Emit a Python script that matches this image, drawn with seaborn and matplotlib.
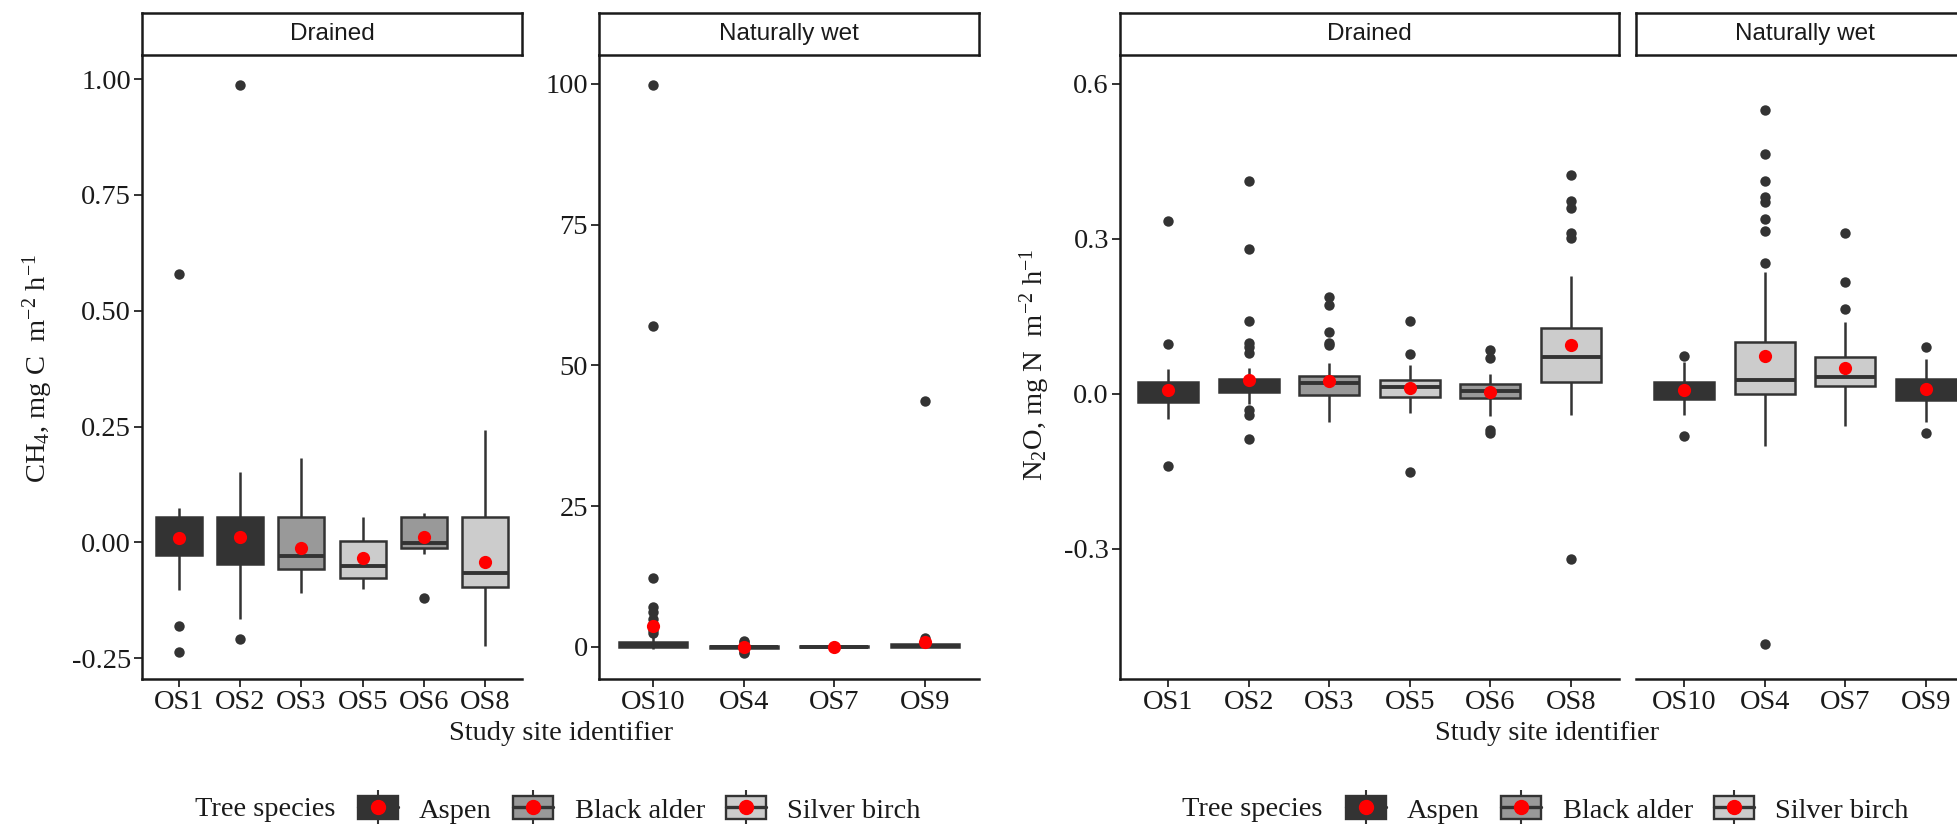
import numpy as np
import pandas as pd
import seaborn as sns
import matplotlib.pyplot as plt
from matplotlib.patches import Patch
from matplotlib.lines import Line2D

# Tree species and their box fill
species = ['Aspen', 'Black alder', 'Silver birch']
species_colors = ['#333333', '#999999', '#cccccc']

# Sites in each facet and the species growing there
drained_sites = ['OS1', 'OS2', 'OS3', 'OS5', 'OS6', 'OS8']
drained_species = ['Aspen', 'Aspen', 'Black alder', 'Silver birch', 'Black alder', 'Silver birch']
wet_sites = ['OS10', 'OS4', 'OS7', 'OS9']
wet_species = ['Aspen', 'Silver birch', 'Silver birch', 'Aspen']

# CH4 flux, mg C m-2 h-1 : [whisker low, Q1, median, Q3, whisker high]
ch4_drained_box = [
    [-0.103, -0.028, 0.005, 0.055, 0.075],
    [-0.166, -0.046, 0.005, 0.055, 0.151],
    [-0.110, -0.057, -0.029, 0.055, 0.181],
    [-0.100, -0.077, -0.050, 0.002, 0.054],
    [-0.026, -0.013, -0.002, 0.055, 0.063],
    [-0.224, -0.097, -0.067, 0.055, 0.243],
]
ch4_drained_mean = [0.009, 0.011, -0.013, -0.033, 0.011, -0.043]
ch4_drained_out = [[0.58, -0.181, -0.237], [0.987, -0.209], [], [], [-0.12], []]

ch4_wet_box = [
    [-0.3, 0.0, 0.3, 0.9, 2.0],
    [-0.6, -0.2, 0.0, 0.15, 0.5],
    [-0.3, -0.1, 0.0, 0.1, 0.3],
    [-0.2, 0.0, 0.2, 0.5, 1.0],
]
ch4_wet_mean = [3.7, -0.05, 0.0, 0.9]
ch4_wet_out = [[99.7, 57.0, 12.2, 7.0, 6.2, 5.0, 4.0, 3.0, 2.5], [1.0, 0.8, -0.9, -1.1], [], [43.7, 1.6]]

# N2O flux, mg N m-2 h-1
n2o_drained_box = [
    [-0.049, -0.016, 0.003, 0.022, 0.048],
    [-0.020, 0.004, 0.015, 0.029, 0.050],
    [-0.055, -0.002, 0.021, 0.035, 0.060],
    [-0.037, -0.006, 0.013, 0.027, 0.055],
    [-0.042, -0.008, 0.006, 0.019, 0.039],
    [-0.040, 0.023, 0.071, 0.128, 0.229],
]
n2o_drained_mean = [0.008, 0.027, 0.025, 0.012, 0.004, 0.095]
n2o_drained_out = [
    [0.335, 0.097, -0.139],
    [0.412, 0.28, 0.142, 0.098, 0.09, 0.079, -0.031, -0.04, -0.087],
    [0.188, 0.172, 0.119, 0.098, 0.094],
    [0.142, 0.077, -0.152],
    [0.085, 0.07, -0.07, -0.076],
    [0.424, 0.374, 0.36, 0.311, 0.302, -0.319],
]

n2o_wet_box = [
    [-0.040, -0.010, 0.005, 0.022, 0.062],
    [-0.100, 0.000, 0.027, 0.100, 0.236],
    [-0.062, 0.015, 0.032, 0.072, 0.139],
    [-0.054, -0.012, 0.008, 0.029, 0.067],
]
n2o_wet_mean = [0.007, 0.074, 0.05, 0.009]
n2o_wet_out = [
    [0.073, -0.081],
    [0.55, 0.464, 0.412, 0.382, 0.372, 0.339, 0.316, 0.253, -0.484],
    [0.311, 0.217, 0.165],
    [0.091, -0.075],
]

ch4_drained_ticks = [-0.25, 0.0, 0.25, 0.5, 0.75, 1.0]
ch4_drained_ticklabels = ['-0.25', '0.00', '0.25', '0.50', '0.75', '1.00']
ch4_wet_ticks = [0, 25, 50, 75, 100]
ch4_wet_ticklabels = ['0', '25', '50', '75', '100']
n2o_ticks = [-0.3, 0.0, 0.3, 0.6]
n2o_ticklabels = ['-0.3', '0.0', '0.3', '0.6']

sns.set_style('ticks')
plt.rcParams['font.family'] = ['Liberation Serif', 'DejaVu Serif']
plt.rcParams['mathtext.default'] = 'regular'

W, H = 1958, 826
fig = plt.figure(figsize=(W / 100, H / 100), dpi=100)
palette = dict(zip(species, species_colors))
FS = 20.5
INK = '#1a1a1a'


def panel(x0, x1, sites, site_species, boxes, means, outliers, ylim, strip_label):
    ax = fig.add_axes([x0 / W, (H - 679) / H, (x1 - x0) / W, 624 / H])
    box_df = pd.DataFrame({
        'site': np.repeat(sites, 5),
        'species': np.repeat(site_species, 5),
        'value': np.concatenate([np.asarray(b, float) for b in boxes]),
    })
    sns.boxplot(data=box_df, x='site', y='value', hue='species', order=sites,
                hue_order=species, palette=palette, whis=(0, 100), showfliers=False,
                showcaps=False, dodge=False, width=0.75, linewidth=1.8,
                linecolor='#333333', medianprops={'linewidth': 2.8}, legend=False, ax=ax)
    counts = [len(o) for o in outliers]
    out_df = pd.DataFrame({
        'site': np.repeat(sites, counts),
        'value': np.concatenate([np.asarray(o, float) for o in outliers]),
    })
    sns.stripplot(data=out_df, x='site', y='value', order=sites, jitter=False,
                  color='#333333', size=7.5, linewidth=0, ax=ax, zorder=3)
    sns.stripplot(x=sites, y=means, order=sites, jitter=False, color='#ff0000',
                  size=9.5, linewidth=0, ax=ax, zorder=4)
    ax.set_xlim(-0.6, len(sites) - 0.4)
    ax.set_ylim(*ylim)
    ax.set_xlabel('')
    ax.set_ylabel('')
    for side in ['top', 'right']:
        ax.spines[side].set_visible(False)
    for side in ['left', 'bottom']:
        ax.spines[side].set_linewidth(1.8)
        ax.spines[side].set_color(INK)
    ax.tick_params(length=6, width=1.4, color='#333333', labelsize=FS,
                   labelcolor=INK, pad=2)

    # facet strip
    st = fig.add_axes([x0 / W, (H - 55) / H, (x1 - x0) / W, 42 / H])
    st.set_xticks([])
    st.set_yticks([])
    for sp in st.spines.values():
        sp.set_linewidth(1.8)
        sp.set_color(INK)
    st.text(0.5, 0.5, strip_label, ha='center', va='center', fontsize=17.5,
            family='Liberation Sans', color=INK, transform=st.transAxes)
    return ax


# CH4 chart
a1 = panel(142, 522, drained_sites, drained_species, ch4_drained_box, ch4_drained_mean,
           ch4_drained_out, (-0.295, 1.052), 'Drained')
a1.set_yticks(ch4_drained_ticks, ch4_drained_ticklabels)
a2 = panel(599, 979, wet_sites, wet_species, ch4_wet_box, ch4_wet_mean,
           ch4_wet_out, (-5.7, 105.1), 'Naturally wet')
a2.set_yticks(ch4_wet_ticks, ch4_wet_ticklabels)

# N2O chart
a3 = panel(1120, 1619, drained_sites, drained_species, n2o_drained_box, n2o_drained_mean,
           n2o_drained_out, (-0.552, 0.656), 'Drained')
a3.set_yticks(n2o_ticks, n2o_ticklabels)
a4 = panel(1636, 1974, wet_sites, wet_species, n2o_wet_box, n2o_wet_mean,
           n2o_wet_out, (-0.552, 0.656), 'Naturally wet')
a4.spines['left'].set_visible(False)
a4.tick_params(axis='y', left=False, labelleft=False)

# axis titles
fig.text(38 / W, (H - 368) / H, r'CH$_4$, mg C  m$^{-2}$ h$^{-1}$', rotation=90,
         ha='center', va='center', fontsize=FS, color=INK)
fig.text(1035 / W, (H - 365) / H, r'N$_2$O, mg N  m$^{-2}$ h$^{-1}$', rotation=90,
         ha='center', va='center', fontsize=FS, color=INK)
for xc in (561, 1547):
    fig.text(xc / W, (H - 733) / H, 'Study site identifier', ha='center', va='center',
             fontsize=FS, color=INK)

# legends
handles = []
for c in species_colors:
    handles.append((
        Line2D([], [], marker='|', markersize=25, markeredgewidth=1.5, color='#333333', ls='None'),
        Patch(facecolor=c, edgecolor='#333333', linewidth=1.7),
        Line2D([], [], color='#333333', lw=2.4),
        Line2D([], [], marker='o', markersize=10, color='#ff0000', ls='None'),
    ))
for title_x, key_x in ((195, 358), (1182, 1346)):
    fig.text(title_x / W, (H - 810) / H, 'Tree species', ha='left', va='center',
             fontsize=FS, color=INK)
    fig.legend(handles, species, loc='center left', bbox_to_anchor=(key_x / W, (H - 810) / H),
               ncol=3, frameon=False, borderpad=0, borderaxespad=0, handlelength=1.4,
               handleheight=0.85, handletextpad=0.75, columnspacing=0.75, fontsize=FS,
               labelcolor=INK)

fig.savefig('out.png', dpi=100)
